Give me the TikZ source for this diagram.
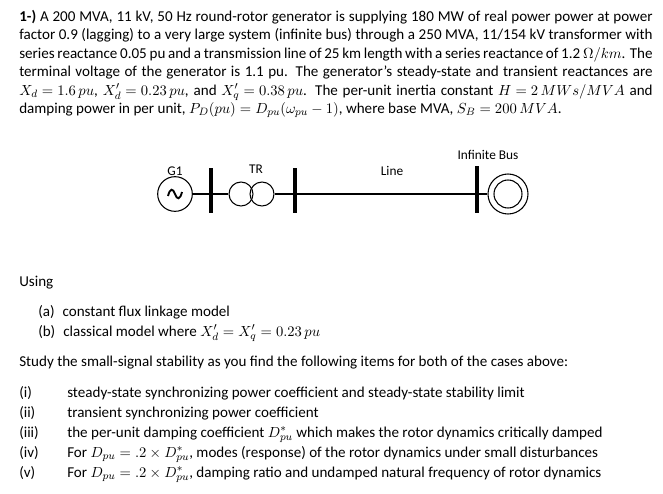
\documentclass[tikz,border=0pt]{standalone}
\usepackage{fontspec}
\setmainfont{Carlito}
\usepackage{amsmath}
\tikzset{
  txt/.style={anchor=base west, inner sep=0pt, font=\fontsize{11.3pt}{13pt}\selectfont},
  bus/.style={line width=2.6pt},
  wire/.style={line width=0.8pt},
  lbl/.style={font=\fontsize{10pt}{12pt}\selectfont, inner sep=0pt}
}
\newcommand{\jline}[1]{\makebox[475pt][s]{#1}}
\newcommand{\m}[1]{\mbox{$#1$}}
\begin{document}
\begin{tikzpicture}[x=0.75pt,y=-0.75pt]
\useasboundingbox (0,0) rectangle (663,493);
% problem statement
\node[txt] (p1) at (19,21) {\jline{\textbf{1-)} A 200 MVA, 11 kV, 50 Hz round-rotor generator is supplying 180 MW of real power power at power}};
\node[txt] (p2) at (19,39.5) {\jline{factor 0.9 (lagging) to a very large system (infinite bus) through a 250 MVA, 11/154 kV transformer with}};
\node[txt] (p3) at (19,58) {\jline{series reactance 0.05 pu and a transmission line of 25 km length with a series reactance of 1.2 \m{\Omega/km}. The}};
\node[txt] (p4) at (19,76.5) {\jline{terminal voltage of the generator is 1.1 pu. The generator's steady-state and transient reactances are}};
\node[txt] (p5) at (19,95) {\jline{\m{X_d = 1.6\,pu}, \m{X_d' = 0.23\,pu}, and \m{X_q' = 0.38\,pu}. The per-unit inertia constant \m{H = 2\,MWs/MVA} and}};
\node[txt] (p6) at (19,113.5) {damping power in per unit, $P_D(pu) = D_{pu}(\omega_{pu}-1)$, where base MVA, $S_B = 200\,MVA$.};

% one-line diagram
\node[circle, draw, wire, minimum size=26pt] (g1) at (175,194) {};
\draw[line width=1.4pt] (168,196) .. controls (170,188) and (173,188) .. (175,194) .. controls (177,200) and (180,200) .. (182,192);
\node[lbl] (g1l) at (175,171) {G1};
\coordinate (b1t) at (211,168);
\coordinate (b1b) at (211,213);
\draw[bus] (b1t) -- (b1b);
\node[circle, draw, wire, minimum size=18pt] (t1) at (241,194) {};
\node[circle, draw, wire, minimum size=18pt] (t2) at (262,194) {};
\node[lbl] (trl) at (256,169) {TR};
\coordinate (b2t) at (295,168);
\coordinate (b2b) at (295,213);
\draw[bus] (b2t) -- (b2b);
\coordinate (b3t) at (477,166);
\coordinate (b3b) at (477,213);
\draw[bus] (b3t) -- (b3b);
\node[lbl] (linel) at (392,171) {Line};
\node[circle, draw, wire, minimum size=30pt] (inf) at (508,194) {};
\node[circle, draw, wire, minimum size=21pt] (infi) at (inf) {};
\node[lbl] (infl) at (488,155) {Infinite Bus};
\draw[wire] (g1.east) -- (b1t |- g1.east);
\draw[wire] (b1t |- t1.west) -- (t1.west);
\draw[wire] (t2.east) -- (b2t |- t2.east);
\draw[wire] (b2t |- inf.west) -- (b3t |- inf.west);
\draw[wire] (b3t |- inf.west) -- (inf.west);

% cases
\node[txt] (using) at (19,286) {Using};
\node[txt] (ca) at (38,316) {(a)\hspace{6pt}constant flux linkage model};
\node[txt] (cb) at (38,336) {(b)\hspace{6pt}classical model where $X_d' = X_q' = 0.23\,pu$};
\node[txt] (study) at (19,366) {Study the small-signal stability as you find the following items for both of the cases above:};
\foreach \lab/\yy/\body in {
  (i)/397/{steady-state synchronizing power coefficient and steady-state stability limit},
  (ii)/417/{transient synchronizing power coefficient},
  (iii)/437/{the per-unit damping coefficient $D^*_{pu}$ which makes the rotor dynamics critically damped},
  (iv)/457/{For $D_{pu} = .2\times D^*_{pu}$, modes (response) of the rotor dynamics under small disturbances},
  (v)/477/{For $D_{pu} = .2\times D^*_{pu}$, damping ratio and undamped natural frequency of rotor dynamics}}
{
  \node[txt] at (19,\yy) {\lab};
  \node[txt] at (67,\yy) {\body};
}
\end{tikzpicture}
\end{document}
